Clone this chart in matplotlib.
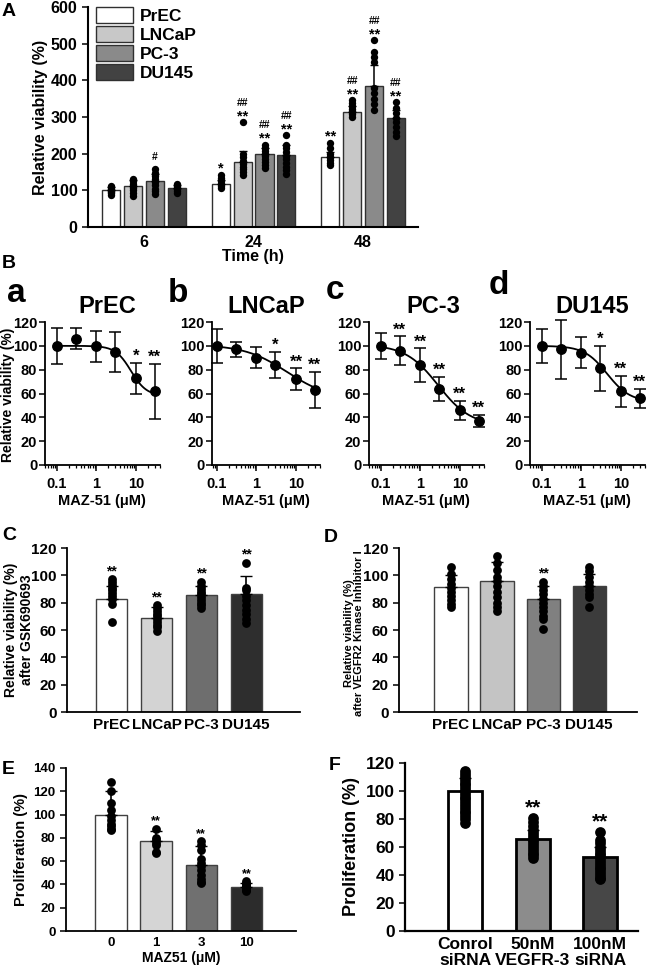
import numpy as np
import matplotlib
matplotlib.use('Agg')
import matplotlib.pyplot as plt
from matplotlib.patches import Patch

plt.rcParams['font.family'] = ['Liberation Sans', 'DejaVu Sans']
plt.rcParams['font.weight'] = 'bold'
plt.rcParams['axes.labelweight'] = 'bold'

# ---------------- DATA ----------------
cells = ['PrEC', 'LNCaP', 'PC-3', 'DU145']
a_times = ['6', '24', '48']
a_mean = [[100, 113, 125, 106], [117, 176, 198, 196], [190, 314, 385, 297]]
a_err = [[10, 16, 20, 9], [11, 30, 18, 28], [15, 15, 58, 22]]
a_dots = [
    [[112, 108, 104, 101, 98, 95, 92, 88], [132, 125, 118, 112, 106, 100, 92, 85],
     [157, 148, 138, 130, 122, 114, 105, 97, 90], [117, 112, 107, 103, 99, 94]],
    [[143, 133, 125, 118, 112, 107], [286, 200, 190, 180, 172, 165, 158, 150, 142],
     [225, 215, 207, 200, 193, 186, 178, 170, 162], [250, 225, 215, 205, 195, 185, 175, 165, 155, 145]],
    [[230, 215, 200, 190, 182, 175, 168], [345, 337, 330, 322, 315, 308, 300],
     [509, 478, 465, 450, 380, 365, 350, 335, 320], [340, 325, 310, 298, 285, 272, 260, 248]],
]
a_hash = [['', '', '#', ''], ['', '##', '##', '##'], ['', '##', '##', '##']]
a_star = [['', '', '', ''], ['*', '**', '**', '**'], ['**', '**', '**', '**']]

b_conc = [0.1, 0.3, 1, 3, 10, 30]
b_letters = ['a', 'b', 'c', 'd']
b_mean = [[100, 106, 99.5, 95, 73, 62], [100, 97, 90, 84, 72, 63],
          [100, 96, 84, 64, 46, 37], [100, 97, 94, 81, 62, 56]]
b_err = [[15, 9, 13, 17, 13, 23], [14, 6, 9, 11, 9, 15],
         [11, 12, 14, 10, 8, 5], [14, 25, 13, 19, 13, 8]]
b_stars = [['', '', '', '', '*', '**'], ['', '', '', '*', '**', '**'],
           ['', '**', '**', '**', '**', '**'], ['', '', '', '*', '**', '**']]
# fitted curve parameters: top, bottom, EC50, Hill slope
b_fit = [(100, 58, 7.5, 2.2), (101, 55, 6, 0.8), (101, 33, 2.8, 1.05), (100, 53, 4.5, 1.5)]

c_mean = [83, 69, 85.5, 86.5]
c_err = [9, 8, 7, 13]
c_dots = [[97, 95, 93, 91, 89, 87, 85, 83, 79, 66], [78, 76, 74, 72, 70, 68, 66, 64, 62, 59],
          [95, 92, 90, 88, 86, 84, 82, 80, 78, 76], [109, 91, 89, 85, 82, 78, 75, 72, 68, 65]]
c_stars = ['**', '**', '**', '**']

d_mean = [91.5, 96, 83, 92]
d_err = [9, 14, 9, 9]
d_dots = [[106, 101, 97, 94, 91, 88, 85, 82, 79, 77], [114, 109, 104, 99, 96, 92, 88, 84, 80, 77, 74],
          [95, 92, 89, 86, 83, 80, 77, 74, 70, 68, 61], [106, 103, 99, 95, 92, 89, 86, 84, 77]]
d_stars = ['', '', '**', '']

e_doses = ['0', '1', '3', '10']
e_mean = [100, 77, 57, 37.5]
e_err = [20, 9, 16, 4]
e_dots = [[128, 120, 110, 104, 99, 95, 92, 90, 88, 87], [88, 80, 78, 76, 74, 68, 67],
          [77, 74, 70, 62, 58, 56, 52, 48, 45, 42, 41], [43, 41, 40, 39, 38, 37, 36, 35, 34]]
e_stars = ['', '**', '**', '**']

f_labels = ['Conrol\nsiRNA', '50nM\nVEGFR-3', '100nM\nsiRNA']
f_mean = [100, 65.5, 53]
f_err = [9, 7, 7]
f_dots = [[114, 112, 110, 108, 106, 104, 102, 100, 98, 96, 94, 92, 90, 88, 86, 84, 82, 80, 77],
          [81, 78, 75, 72, 70, 68, 66, 64, 62, 60, 58, 56, 54, 52],
          [71, 65, 63, 60, 58, 56, 54, 52, 50, 48, 46, 44, 42, 40, 38, 37]]
f_stars = ['', '**', '**']

# ---------------- LAYOUT ----------------
W, H = 650, 968
fig = plt.figure(figsize=(W / 100, H / 100), dpi=100)


def ax_px(l, r, t, b):
    return fig.add_axes([l / W, 1 - b / H, (r - l) / W, (b - t) / H])


def style(ax, lw=1.3):
    for s in ['top', 'right']:
        ax.spines[s].set_visible(False)
    for s in ['left', 'bottom']:
        ax.spines[s].set_linewidth(lw)
    ax.tick_params(direction='out', length=4, width=1.1)


def ftext(x, y, s, size, **kw):
    fig.text(x / W, 1 - y / H, s, fontsize=size, fontweight='bold', **kw)


# ---------- Panel A ----------
axA = ax_px(88, 418, 7, 227)
style(axA, 1.5)
a_cols = ['white', '#c8c8c8', '#8a8a8a', '#424242']
offs = [-0.3, -0.1, 0.1, 0.3]
upx = 600 / 220.0  # data units per pixel
for g in range(3):
    for i in range(4):
        x = g + offs[i]
        axA.bar(x, a_mean[g][i], width=0.165, color=a_cols[i], edgecolor='#303030', linewidth=1.0, zorder=2)
        axA.errorbar(x, a_mean[g][i], yerr=[[0], [a_err[g][i]]], color='black', capsize=3, lw=1.1, zorder=3)
        axA.scatter([x] * len(a_dots[g][i]), a_dots[g][i], s=28, color='black', zorder=4, linewidths=0)
        top = max(max(a_dots[g][i]), a_mean[g][i] + a_err[g][i])
        if a_star[g][i]:
            axA.text(x, top + 2 * upx, a_star[g][i], ha='center', va='baseline', fontsize=10.5, zorder=5)
            if a_hash[g][i]:
                axA.text(x, top + 16 * upx, a_hash[g][i], ha='center', va='baseline', fontsize=7.5, zorder=5)
        elif a_hash[g][i]:
            axA.text(x, top + 9 * upx, a_hash[g][i], ha='center', va='baseline', fontsize=7.5, zorder=5)
axA.set_xlim(-0.51, 2.5)
axA.set_ylim(0, 600)
axA.set_yticks(range(0, 601, 100))
axA.set_xticks(range(3))
axA.set_xticklabels(a_times)
axA.tick_params(axis='x', length=0, pad=6)
axA.tick_params(labelsize=11.5)
axA.set_xlabel('Time (h)', fontsize=11.5, labelpad=-1)
axA.set_ylabel('Relative viability (%)', fontsize=11.5, labelpad=2)
handles = [Patch(facecolor=c, edgecolor='#303030', linewidth=1.0) for c in a_cols]
axA.legend(handles, cells, loc='upper left', bbox_to_anchor=(0.025, 1.0), frameon=False,
           prop={'size': 12.5, 'weight': 'bold'}, handlelength=2.1, handleheight=1.05,
           labelspacing=0.12, handletextpad=0.4, borderpad=0, borderaxespad=0)
ftext(9, 12, 'A', 14, ha='center', va='center')
ftext(9, 263, 'B', 14, ha='center', va='center')

# ---------- Panel B ----------
b_lefts = [45, 212, 369, 530]
b_xmin = [0.05, 0.075, 0.05, 0.05]
letter_pos = [(16, 302), (178, 302), (335, 299), (499, 294)]
title_x = [107, 266, 433, 592]
for k in range(4):
    width = np.log10(40 / b_xmin[k]) * 39.5
    ax = ax_px(b_lefts[k], b_lefts[k] + width, 322, 465)
    style(ax, 1.3)
    ax.set_xscale('log')
    xs = np.logspace(-1, np.log10(30), 200)
    top, bot, ec, h = b_fit[k]
    ax.plot(xs, bot + (top - bot) / (1 + (xs / ec) ** h), color='black', lw=1.3, zorder=2)
    ax.errorbar(b_conc, b_mean[k], yerr=b_err[k], fmt='o', color='black', ms=6.8,
                capsize=4, elinewidth=1.1, capthick=1.1, zorder=3, clip_on=False)
    for j, s in enumerate(b_stars[k]):
        if s:
            ax.text(b_conc[j], b_mean[k][j] + b_err[k][j] - 1, s, ha='center', va='bottom',
                    fontsize=12, clip_on=False)
    ax.set_xlim(b_xmin[k], 40)
    ax.set_ylim(0, 120)
    ax.set_yticks(range(0, 121, 20))
    ax.set_xticks([0.1, 1, 10])
    ax.set_xticklabels(['0.1', '1', '10'])
    ax.tick_params(which='minor', length=2.5, width=0.9)
    ax.tick_params(labelsize=10.5, pad=1.5)
    ax.tick_params(axis='x', pad=5)
    ax.set_xlabel('MAZ-51 (\u03bcM)', fontsize=10.5, labelpad=2)
    ftext(letter_pos[k][0], letter_pos[k][1], b_letters[k], 24, ha='center', va='baseline')
    ftext(title_x[k], 313, cells[k], 17, ha='center', va='baseline')
ftext(8, 395, 'Relative viability (%)', 10, ha='center', va='center', rotation=90)


def bar_panel(ax, means, errs, dots, stars, cols, width, edge, elw, dot_s, star_size, star_off):
    xs = np.arange(len(means))
    for i in xs:
        ax.bar(i, means[i], width=width, color=cols[i], edgecolor=edge, linewidth=elw, zorder=2)
        ax.errorbar(i, means[i], yerr=[[0], [errs[i]]], color='black', capsize=4, lw=1.2, zorder=3)
        ax.scatter([i] * len(dots[i]), dots[i], s=dot_s, color='black', zorder=4, linewidths=0)
        if stars[i]:
            top = max(max(dots[i]), means[i] + errs[i])
            ax.text(i, top + star_off, stars[i], ha='center', va='bottom', fontsize=star_size, zorder=5)


# ---------- Panel C ----------
axC = ax_px(67, 300, 548, 712)
style(axC, 1.3)
bar_panel(axC, c_mean, c_err, c_dots, c_stars, ['white', '#d3d3d3', '#6e6e6e', '#2e2e2e'],
          0.7, '#404040', 1.0, 40, 10, 1)
axC.set_xlim(-1.0, 4.2)
axC.set_ylim(0, 120)
axC.set_yticks(range(0, 121, 20))
axC.set_xticks(range(4))
axC.set_xticklabels(cells)
axC.tick_params(axis='x', length=0, pad=4)
axC.tick_params(labelsize=11)
ftext(19, 630, 'Relative viability (%)\nafter GSK690693', 10, ha='center', va='center',
      rotation=90, linespacing=1.1, multialignment='center')
ftext(9, 535, 'C', 14, ha='center', va='center')

# ---------- Panel D ----------
axD = ax_px(399, 637, 548, 712)
style(axD, 1.3)
bar_panel(axD, d_mean, d_err, d_dots, d_stars, ['white', '#c4c4c4', '#808080', '#3c3c3c'],
          0.72, '#404040', 1.0, 40, 10, 1)
axD.set_xlim(-1.13, 4.04)
axD.set_ylim(0, 120)
axD.set_yticks(range(0, 121, 20))
axD.set_xticks(range(4))
axD.set_xticklabels(cells)
axD.tick_params(axis='x', length=0, pad=4)
axD.tick_params(labelsize=11)
ftext(354, 633, 'Relative viability (%)\nafter VEGFR2 Kinase Inhibitor I', 8, ha='center',
      va='center', rotation=90, linespacing=1.05, multialignment='center')
ftext(331, 538, 'D', 14, ha='center', va='center')

# ---------- Panel E ----------
axE = ax_px(66, 296, 768, 931)
style(axE, 1.3)
bar_panel(axE, e_mean, e_err, e_dots, e_stars, ['white', '#d5d5d5', '#707070', '#2c2c2c'],
          0.7, '#404040', 1.0, 40, 9, 1)
axE.set_xlim(-1.0, 4.1)
axE.set_ylim(0, 140)
axE.set_yticks(range(0, 141, 20))
axE.set_xticks(range(4))
axE.set_xticklabels(e_doses)
axE.tick_params(axis='x', length=0, pad=4)
axE.tick_params(labelsize=9.5)
axE.set_xlabel('MAZ51 (\u03bcM)', fontsize=10, labelpad=2)
axE.set_ylabel('Proliferation (%)', fontsize=10.5, labelpad=4)
ftext(8, 769, 'E', 14, ha='center', va='center')

# ---------- Panel F ----------
axF = ax_px(405, 638, 763, 931)
style(axF, 1.6)
bar_panel(axF, f_mean, f_err, f_dots, f_stars, ['white', '#8c8c8c', '#474747'],
          0.5, 'black', 2.0, 60, 15, 0)
axF.set_xlim(-0.89, 2.56)
axF.set_ylim(0, 120)
axF.set_yticks(range(0, 121, 20))
axF.set_xticks(range(3))
axF.set_xticklabels(f_labels, linespacing=1.15)
axF.tick_params(axis='x', length=0, pad=4)
axF.tick_params(labelsize=12.5)
axF.set_ylabel('Proliferation (%)', fontsize=13, labelpad=4)
ftext(335, 766, 'F', 14, ha='center', va='center')

fig.savefig('out.png', dpi=100)
